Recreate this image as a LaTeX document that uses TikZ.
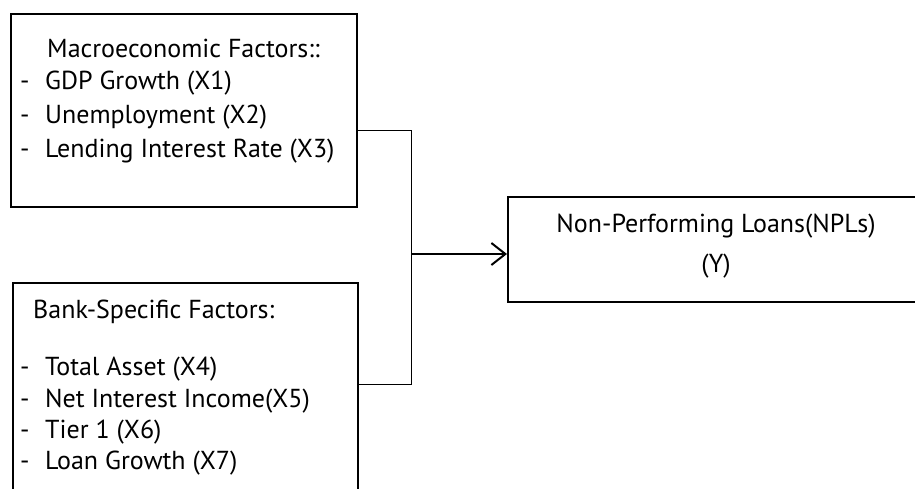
\documentclass[tikz,border=0pt]{standalone}
\usepackage{fontspec}
\setmainfont{PT Sans}
\usetikzlibrary{arrows.meta}
\begin{document}
\begin{tikzpicture}[x=1pt,y=-1pt,
  box/.style={draw,line width=2pt,inner sep=0pt},
  txt/.style={inner sep=0pt,anchor=base west,font=\fontsize{26}{30}\selectfont},
  ctxt/.style={inner sep=0pt,anchor=base,font=\fontsize{26}{30}\selectfont},
  conn/.style={line width=1pt},
  arr/.style={line width=2pt,-{Straight Barb[length=14pt,width=22pt,line width=2pt]}},
  ]
\useasboundingbox (0,0) rectangle (915,488);
\begin{scope}
\clip (0,0) rectangle (915,488);
\node[box, minimum width=346pt, minimum height=193pt, anchor=north west] (macro) at (10,13) {};
\node[box, minimum width=345pt, minimum height=240pt, anchor=north west] (bank) at (12,282) {};
\node[box, minimum width=420pt, minimum height=105pt, anchor=north west] (npl) at (507,196) {};

\node[txt] (m0) at (47,57) {Macroeconomic Factors::};
\node[txt] (m1) at (20,89) {\makebox[25pt][l]{-}GDP Growth (X1)};
\node[txt] (m2) at (20,123) {\makebox[25pt][l]{-}Unemployment (X2)};
\node[txt] (m3) at (20,157) {\makebox[25pt][l]{-}Lending Interest Rate (X3)};

\node[txt] (b0) at (33,318) {Bank-Specific Factors:};
\node[txt] (b1) at (20,375) {\makebox[25pt][l]{-}Total Asset (X4)};
\node[txt] (b2) at (20,407) {\makebox[25pt][l]{-}Net Interest Income(X5)};
\node[txt] (b3) at (20,438) {\makebox[25pt][l]{-}Tier 1 (X6)};
\node[txt] (b4) at (20,469) {\makebox[25pt][l]{-}Loan Growth (X7)};

\node[ctxt] (n0) at (716,232) {Non-Performing Loans(NPLs)};
\node[ctxt] (n1) at (716,272) {(Y)};

\coordinate (j1) at (411,130);
\coordinate (j2) at (411,384);
\coordinate (j3) at (411,254);
\draw[conn] (macro.east |- j1) -- (j1) -- (j2) -- (bank.east |- j2);
\draw[arr] (j3) -- (npl.west |- j3);
\end{scope}
\end{tikzpicture}
\end{document}
